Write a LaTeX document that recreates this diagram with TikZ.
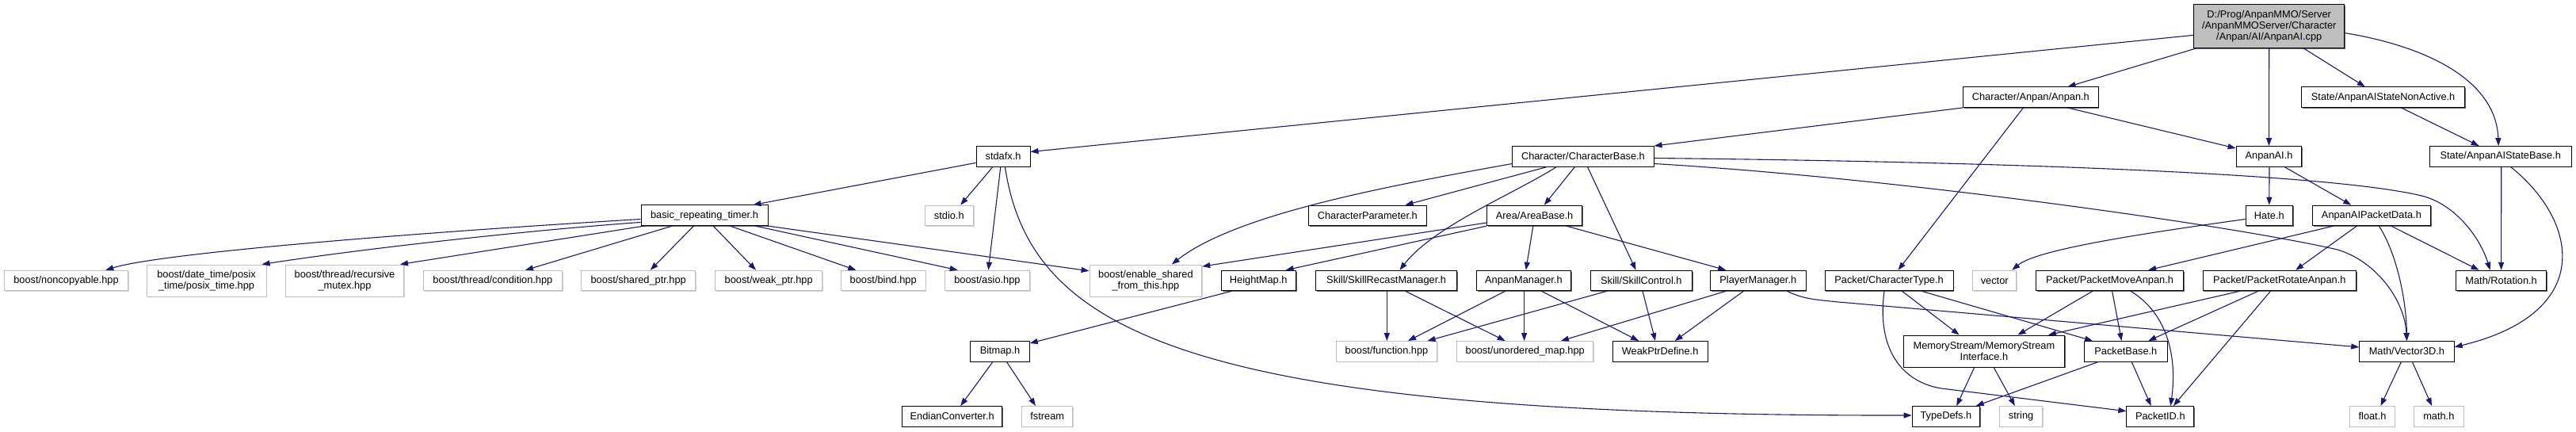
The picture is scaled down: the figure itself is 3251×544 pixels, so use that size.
\documentclass[tikz,border=0pt]{standalone}
\usepackage{fontspec}
\setmainfont{Liberation Sans}
\usetikzlibrary{arrows.meta,shadows}
\definecolor{edgeblue}{HTML}{191970}
\definecolor{extgray}{HTML}{BFBFBF}
\newcommand\dep[4]{\draw[edge] ([xshift=#2pt]#1.south) -- ([xshift=#4pt]#3.north);}
\begin{document}
\begin{tikzpicture}[x=1pt,y=-1pt,
 nbox/.style={draw=black,line width=1pt,fill=white,text=black,inner sep=0pt,minimum height=25.5pt,
   font=\fontsize{12.8}{14}\selectfont,align=center,
   drop shadow={shadow xshift=1.3pt,shadow yshift=-1.3pt,fill=black!60,opacity=1}},
 ebox/.style={nbox,draw=extgray,drop shadow={shadow xshift=1.3pt,shadow yshift=-1.3pt,fill=extgray!70,opacity=1}},
 mainbox/.style={nbox,fill=extgray},
 two/.style={minimum height=40pt},
 edge/.style={draw=edgeblue,line width=1.1pt,-{Triangle[length=10pt,width=7pt]}}]
\useasboundingbox (0,0) rectangle (3251,544);
% row 0
\node[mainbox,minimum width=190pt,minimum height=55pt] (main) at (2863.7,33.2) {D:/Prog/AnpanMMO/Server\\/AnpanMMOServer/Character\\/Anpan/AI/AnpanAI.cpp};
% row 1
\node[nbox,minimum width=170.5pt] (anpanh) at (2562.8,122.7) {Character/Anpan/Anpan.h};
\node[nbox,minimum width=205.5pt] (nonact) at (3007.6,122.7) {State/AnpanAIStateNonActive.h};
% row 2
\node[nbox,minimum width=68pt] (stdafx) at (1266,197.3) {stdafx.h};
\node[nbox,minimum width=178.2pt] (charbase) at (1997.9,197.3) {Character/CharacterBase.h};
\node[nbox,minimum width=82.8pt] (anpanai) at (2863.5,197.3) {AnpanAI.h};
\node[nbox,minimum width=178.9pt] (statebase) at (3155.7,197.3) {State/AnpanAIStateBase.h};
% row 3
\node[nbox,minimum width=160pt] (timer) at (889,271.7) {basic\_repeating\_timer.h};
\node[ebox,minimum width=61pt] (stdio) at (1197.8,271.9) {stdio.h};
\node[nbox,minimum width=148.7pt] (charparam) at (1725.8,271.9) {CharacterParameter.h};
\node[nbox,minimum width=120pt] (areabase) at (1936.6,271.9) {Area/AreaBase.h};
\node[nbox,minimum width=59.6pt] (hate) at (2863.8,271.9) {Hate.h};
\node[nbox,minimum width=149.4pt] (packetdata) at (2992.9,271.9) {AnpanAIPacketData.h};
% row 4
\node[ebox,minimum width=155.7pt] (noncopy) at (83.5,354) {boost/noncopyable.hpp};
\node[ebox,two,minimum width=150.8pt] (posix) at (260.6,354) {boost/date\_time/posix\\\_time/posix\_time.hpp};
\node[ebox,two,minimum width=148.7pt] (recmutex) at (435,354) {boost/thread/recursive\\\_mutex.hpp};
\node[ebox,minimum width=174.7pt] (condition) at (621.9,354) {boost/thread/condition.hpp};
\node[ebox,minimum width=143.8pt] (sharedptr) at (805.7,354) {boost/shared\_ptr.hpp};
\node[ebox,minimum width=134.7pt] (weakptr) at (970.2,354) {boost/weak\_ptr.hpp};
\node[ebox,minimum width=106.6pt] (bind) at (1114.7,354) {boost/bind.hpp};
\node[ebox,minimum width=106.6pt] (asio) at (1245.9,354) {boost/asio.hpp};
\node[ebox,two,minimum width=141.7pt] (enableshared) at (1445.9,354) {boost/enable\_shared\\\_from\_this.hpp};
\node[nbox,minimum width=94pt] (heightmap) at (1588.2,354) {HeightMap.h};
\node[nbox,minimum width=178.2pt] (recast) at (1749.6,354) {Skill/SkillRecastManager.h};
\node[nbox,minimum width=119.3pt] (anpanmgr) at (1922.9,354) {AnpanManager.h};
\node[nbox,minimum width=128.4pt] (skillctrl) at (2071.3,354) {Skill/SkillControl.h};
\node[nbox,minimum width=120.7pt] (playermgr) at (2218.8,354) {PlayerManager.h};
\node[nbox,minimum width=162pt] (chartype) at (2384,354) {Packet/CharacterType.h};
\node[ebox,minimum width=55.4pt] (vector) at (2517.2,354) {vector};
\node[nbox,minimum width=185.9pt] (pmove) at (2662.5,354) {Packet/PacketMoveAnpan.h};
\node[nbox,minimum width=193.6pt] (prot) at (2876.8,354) {Packet/PacketRotateAnpan.h};
\node[nbox,minimum width=113.6pt] (rotation) at (3156.6,354) {Math/Rotation.h};
% row 5
\node[nbox,minimum width=74.3pt] (bitmap) at (1262,443.3) {Bitmap.h};
\node[ebox,minimum width=127pt] (function) at (1750,443.3) {boost/function.hpp};
\node[ebox,minimum width=171.9pt] (unordered) at (1924.7,443.3) {boost/unordered\_map.hpp};
\node[nbox,minimum width=120pt] (weakptrdef) at (2095.1,443.3) {WeakPtrDefine.h};
\node[nbox,two,minimum width=202.7pt] (memstream) at (2503.9,443.1) {MemoryStream/MemoryStream\\Interface.h};
\node[nbox,minimum width=104.5pt] (packetbase) at (2682.8,443.3) {PacketBase.h};
\node[nbox,minimum width=119.3pt] (vector3d) at (3037.4,443.3) {Math/Vector3D.h};
% row 6
\node[nbox,minimum width=126.3pt] (endian) at (1201.7,525.3) {EndianConverter.h};
\node[ebox,minimum width=64.5pt] (fstream) at (1321.7,525.3) {fstream};
\node[nbox,minimum width=85.6pt] (typedefs) at (2455.9,525.3) {TypeDefs.h};
\node[ebox,minimum width=54.7pt] (string) at (2550.6,525.3) {string};
\node[nbox,minimum width=84.9pt] (packetid) at (2726.3,525.3) {PacketID.h};
\node[ebox,minimum width=56.1pt] (floath) at (2994,525.3) {float.h};
\node[ebox,minimum width=62.5pt] (mathh) at (3077.8,525.3) {math.h};

% ---- edges: main
\draw[edge] ([yshift=-11.2pt]main.west) -- ([yshift=5.8pt]stdafx.east);
\dep{main}{-92.9}{anpanh}{46.7}
\dep{main}{0}{anpanai}{0}
\dep{main}{43.9}{nonact}{-22.8}
\draw[edge] ([yshift=-8.4pt]main.east) .. controls (3060,58) and (3150,100) .. ([xshift=-2.5pt]statebase.north);
% stdafx
\draw[edge] ([yshift=-8.1pt]stdafx.west) -- ([xshift=61.5pt]timer.north);
\dep{stdafx}{-13.1}{stdio}{14.4}
\dep{stdafx}{-3.2}{asio}{1.4}
\draw[edge] ([xshift=2.4pt]stdafx.south) .. controls (1300,420) and (1500,525) .. ([yshift=1.3pt]typedefs.west);
% timer
\draw[edge] ([yshift=-4.8pt]timer.west) .. controls (500,295) and (200,320) .. ([xshift=49.8pt]noncopy.north);
\draw[edge] ([yshift=-8.7pt]timer.west) .. controls (650,292) and (450,315) .. ([xshift=70pt]posix.north);
\dep{timer}{-75.2}{recmutex}{70}
\dep{timer}{-40.2}{condition}{41.1}
\dep{timer}{-13.5}{sharedptr}{15.1}
\dep{timer}{11}{weakptr}{-16.2}
\dep{timer}{32}{bind}{-34.4}
\dep{timer}{63.6}{asio}{-37.2}
\draw[edge] ([xshift=79pt]timer.south) -- ([yshift=12.2pt]enableshared.west);
% charbase
\draw[edge] ([yshift=-9.2pt]charbase.west) .. controls (1750,235) and (1560,270) .. ([xshift=32.9pt]enableshared.north);
\dep{charbase}{-45.6}{charparam}{47.7}
\draw[edge] ([xshift=-33.6pt]charbase.south) .. controls (1910,245) and (1810,285) .. ([xshift=16.8pt]recast.north);
\dep{charbase}{-10.5}{areabase}{12.2}
\dep{charbase}{5.6}{skillctrl}{-6.7}
\draw[edge] ([yshift=-2.2pt]charbase.east) .. controls (2600,205) and (2960,222) .. (3060,248) .. controls (3100,260) and (3130,300) .. ([xshift=-14pt]rotation.north);
\draw[edge] ([yshift=-9.2pt]charbase.east) .. controls (2400,225) and (2820,285) .. (2950,315) .. controls (3000,330) and (3035,380) .. (vector3d.north);
% anpan.h
\draw[edge] (anpanh.south west) -- (charbase.north east);
\draw[edge] ([xshift=46.7pt]anpanh.south) -- ([yshift=-3pt]anpanai.north west);
\dep{anpanh}{-9.4}{chartype}{11.5}
% anpanai
\dep{anpanai}{0.5}{hate}{0}
\dep{anpanai}{19.5}{packetdata}{-25.6}
% nonactive / statebase
\dep{nonact}{22.8}{statebase}{-27.1}
\dep{statebase}{1}{rotation}{0}
\draw[edge] ([xshift=12.9pt]statebase.south) .. controls (3255,280) and (3275,395) .. ([yshift=5.4pt]vector3d.east);
% hate
\draw[edge] ([yshift=-4.6pt]hate.west) .. controls (2700,295) and (2570,315) .. ([xshift=22.1pt]vector.north);
% packetdata
\dep{packetdata}{-48.1}{pmove}{48.7}
\dep{packetdata}{-18.6}{prot}{20.3}
\draw[edge] ([xshift=9.4pt]packetdata.south) .. controls (3025,320) and (3037,380) .. (vector3d.north);
\dep{packetdata}{24.9}{rotation}{-28}
% chartype
\draw[edge] ([xshift=-6pt]chartype.south) .. controls (2368,440) and (2400,482) .. (2450,490) -- ([yshift=6.6pt]packetid.west);
\dep{chartype}{16.4}{memstream}{-31.2}
\dep{chartype}{41}{packetbase}{-41.8}
% pmove
\dep{pmove}{-21.5}{memstream}{42.5}
\dep{pmove}{3.1}{packetbase}{-5.3}
\draw[edge] ([xshift=26.3pt]pmove.south) .. controls (2735,395) and (2748,450) .. ([xshift=13pt]packetid.north);
% prot
\dep{prot}{-49.8}{memstream}{81.1}
\dep{prot}{-26.8}{packetbase}{28.4}
\dep{prot}{-11.3}{packetid}{16.5}
% memstream, packetbase, vector3d
\dep{memstream}{-12.3}{typedefs}{13.3}
\dep{memstream}{12.3}{string}{-7.8}
\dep{packetbase}{-34.8}{typedefs}{37.8}
\dep{packetbase}{7.4}{packetid}{-11.6}
\dep{vector3d}{-7}{floath}{10.4}
\dep{vector3d}{7}{mathh}{-8.8}
% areabase
\draw[edge] ([yshift=-9.1pt]areabase.west) -- ([yshift=-2.6pt]enableshared.north east);
\draw[edge] (areabase.south west) -- ([xshift=34.4pt]heightmap.north);
\dep{areabase}{-1.8}{anpanmgr}{2.8}
\dep{areabase}{40.3}{playermgr}{-40.6}
% heightmap, bitmap
\draw[edge] ([xshift=-33.6pt]heightmap.south) -- ([yshift=-3pt]bitmap.north east);
\dep{bitmap}{-9.1}{endian}{10.5}
\dep{bitmap}{8.5}{fstream}{-14.7}
% managers
\dep{recast}{0.7}{function}{0.3}
\dep{recast}{23.9}{unordered}{-25}
\dep{anpanmgr}{-23.2}{function}{27}
\dep{anpanmgr}{0.7}{unordered}{-1.1}
\dep{anpanmgr}{22.4}{weakptrdef}{-27}
\dep{skillctrl}{-43.2}{function}{51.5}
\dep{skillctrl}{1.7}{weakptrdef}{-6}
\dep{playermgr}{-40.6}{unordered}{45.2}
\dep{playermgr}{-18.3}{weakptrdef}{18.6}
\draw[edge] ([xshift=36.4pt]playermgr.south) .. controls (2275,377) and (2290,378) .. (2320,381) -- ([yshift=5.4pt]vector3d.west);
\end{tikzpicture}
\end{document}
